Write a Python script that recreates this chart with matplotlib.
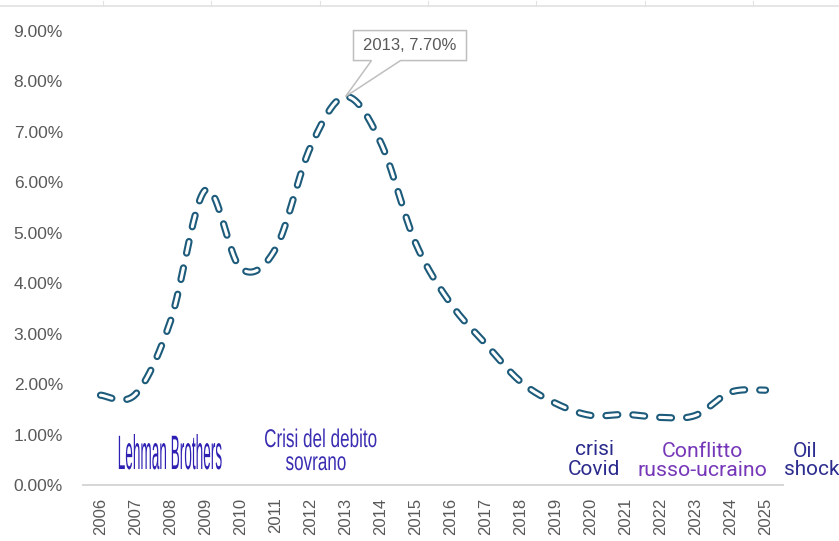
import numpy as np
import matplotlib
matplotlib.use("Agg")
import matplotlib.pyplot as plt
from matplotlib.text import Text
from matplotlib.lines import Line2D
from matplotlib.patches import Polygon
from matplotlib.patheffects import AbstractPathEffect
from matplotlib.transforms import Affine2D

plt.rcParams["lines.scale_dashes"] = False

# Annual values (%)
years = list(range(2006, 2026))
rates = [1.78, 1.80, 3.25, 5.85, 4.30, 4.68, 6.70, 7.70, 6.80, 4.80,
         3.60, 2.80, 2.05, 1.62, 1.38, 1.40, 1.34, 1.38, 1.84, 1.88]
y_ticks = [0, 1, 2, 3, 4, 5, 6, 7, 8, 9]
highlight_year = 2013

# Event captions under the curve:
# (lines, x of each line in year units, baseline of each line in %, colour, vertical stretch, size, family)
events = [
    (["Lehman Brothers"], [1.99], [0.317], "#2d20b3", 3.55, 9.8, "Liberation Sans"),
    (["Crisi del debito", "sovrano"], [6.30, 6.16], [0.753, 0.297], "#3a2db2", 1.5, 12.3, "Liberation Sans"),
    (["crisi", "Covid"], [14.10, 14.10], [0.595, 0.198], "#2a2a8c", 1.0, 15, "Roboto"),
    (["Conflitto", "russo-ucraino"], [17.20, 17.20], [0.555, 0.178], "#7638b8", 1.0, 15.3, "Roboto"),
    (["Oil", "shock"], [20.13, 20.31], [0.555, 0.198], "#2d2d90", 1.0, 15, "Roboto"),
]

LINE_COLOR = "#1d5b7b"
GREY_TEXT = "#595959"


class VerticalStretch(AbstractPathEffect):
    """Stretch glyph outlines vertically about the text baseline."""

    def __init__(self, factor):
        super().__init__()
        self.factor = factor
        self.base_y = 0.0

    def draw_path(self, renderer, gc, tpath, affine, rgbFace=None):
        stretch = (Affine2D().translate(0, -self.base_y)
                   .scale(1, self.factor).translate(0, self.base_y))
        renderer.draw_path(gc, tpath, affine + stretch, rgbFace)


class TallText(Text):
    """Text set in a tall, narrow (condensed) style."""

    def __init__(self, x, y, s, stretch=1.0, **kw):
        super().__init__(x, y, s, **kw)
        self._stretch = VerticalStretch(stretch)
        if stretch != 1.0:
            self.set_path_effects([self._stretch])

    def draw(self, renderer):
        self._stretch.base_y = self.get_transform().transform(
            self.get_unitless_position())[1]
        super().draw(renderer)


def smooth_curve(xs, ys, n=40):
    """Catmull-Rom style smoothing through every point (spreadsheet 'smoothed line')."""
    p = np.column_stack([xs, ys]).astype(float)
    ext = np.vstack([p[0], p, p[-1]])
    out = []
    t = np.linspace(0, 1, n, endpoint=False)[:, None]
    for i in range(len(p) - 1):
        p0, p1, p2, p3 = ext[i], ext[i + 1], ext[i + 2], ext[i + 3]
        c1 = p1 + (p2 - p0) / 6.0
        c2 = p2 - (p3 - p1) / 6.0
        seg = ((1 - t) ** 3) * p1 + 3 * ((1 - t) ** 2) * t * c1 + 3 * (1 - t) * t ** 2 * c2 + t ** 3 * p2
        out.append(seg)
    out.append(p[-1][None, :])
    curve = np.vstack(out)
    return curve[:, 0], curve[:, 1]


W, H = 839, 541
fig = plt.figure(figsize=(W / 100, H / 100), dpi=100)
ax = fig.add_axes([83 / W, (H - 485) / H, 700 / W, 454 / H])

x_idx = np.arange(len(years))
ax.set_xlim(-0.5, len(years) - 0.5)
ax.set_ylim(y_ticks[0], y_ticks[-1])

# Smoothed dashed curve with hollow (outlined) dashes
sx, sy = smooth_curve(x_idx, rates)
dash = (0, (8.5, 10.9))
ax.plot(sx, sy, color=LINE_COLOR, lw=5.2, linestyle=dash,
        dash_capstyle="round", solid_capstyle="round", zorder=3)
ax.plot(sx, sy, color="white", lw=2.2, linestyle=dash,
        dash_capstyle="round", solid_capstyle="round", zorder=4)

# Axes styling
for side in ["left", "right", "top"]:
    ax.spines[side].set_visible(False)
ax.spines["bottom"].set_color("#d6d6d6")
ax.spines["bottom"].set_linewidth(1.4)

ax.set_yticks(y_ticks)
ax.set_yticklabels([f"{v:.2f}%" for v in y_ticks])
ax.set_xticks(x_idx)
ax.set_xticklabels([str(y) for y in years], rotation=90)
ax.tick_params(axis="y", length=0, pad=14.4, labelsize=12.5, labelcolor=GREY_TEXT)
ax.tick_params(axis="x", length=0, pad=9.0, labelsize=12, labelcolor=GREY_TEXT)
for lab in ax.get_xticklabels() + ax.get_yticklabels():
    lab.set_fontfamily("Liberation Sans")

# Event captions
for lines, xs_, baselines, color, stretch, size, family in events:
    for line, xpos, yb in zip(lines, xs_, baselines):
        t = TallText(xpos, yb, line, stretch=stretch, transform=ax.transData,
                     ha="center", va="baseline", color=color,
                     fontsize=size, fontfamily=family, clip_on=False, zorder=5)
        ax.add_artist(t)

# Callout for the highlighted year
hi = years.index(highlight_year)
tx, ty = ax.transData.transform((x_idx[hi], rates[hi]))
callout = [(8, 36), (26, 36), (0, 0), (55, 36), (121, 36), (121, 66), (8, 66)]
fig.add_artist(Polygon(callout, closed=True, transform=Affine2D().translate(tx, ty),
                       facecolor="white", edgecolor="#bfbfbf", lw=1.1, zorder=6))
fig.add_artist(Text(tx + 64.5, ty + 51, f"{years[hi]}, {rates[hi]:.2f}%",
                    transform=Affine2D(), ha="center", va="center",
                    fontsize=12, color=GREY_TEXT, fontfamily="Liberation Sans", zorder=7))

# Thin ruler along the top edge
ruler_y = 1 - 6 / H
fig.add_artist(Line2D([0, 1], [ruler_y, ruler_y], transform=fig.transFigure,
                      color="#e2e2e2", lw=1.2))
for k in range(7):
    rx = (103 + 108.33 * k) / W
    fig.add_artist(Line2D([rx, rx], [ruler_y, 1 - 1 / H], transform=fig.transFigure,
                          color="#e2e2e2", lw=0.8))

fig.savefig("out.png", dpi=100, facecolor="white")
